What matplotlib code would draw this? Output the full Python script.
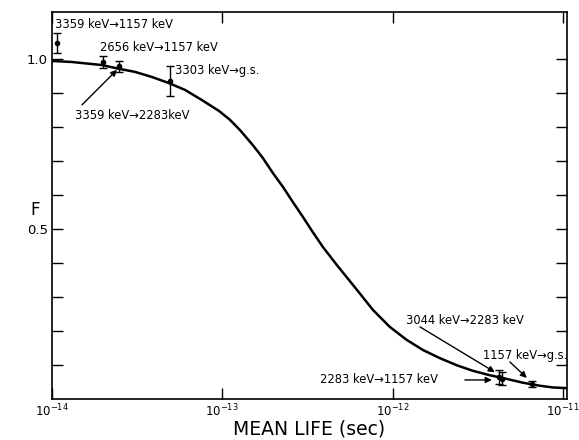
import numpy as np
import matplotlib
matplotlib.use("Agg")
import matplotlib.pyplot as plt
from matplotlib.ticker import FixedLocator, FuncFormatter

# curva teorica F(tau)
curva_tau = [1.00e-14, 1.31e-14, 1.97e-14, 2.47e-14, 3.07e-14, 3.86e-14, 4.86e-14,
             6.04e-14, 7.60e-14, 9.57e-14, 1.11e-13, 1.27e-13, 1.51e-13, 1.73e-13,
             1.98e-13, 2.27e-13, 2.60e-13, 2.98e-13, 3.40e-13, 3.90e-13, 4.71e-13,
             6.18e-13, 7.67e-13, 9.64e-13, 1.21e-12, 1.51e-12, 1.90e-12, 2.39e-12,
             2.96e-12, 3.72e-12, 4.69e-12, 5.82e-12, 7.33e-12, 8.73e-12, 1.05e-11]
curva_F = [0.994, 0.991, 0.982, 0.971, 0.962, 0.947, 0.929,
           0.909, 0.879, 0.847, 0.821, 0.791, 0.747, 0.709,
           0.665, 0.624, 0.579, 0.535, 0.491, 0.447, 0.394,
           0.321, 0.262, 0.212, 0.174, 0.144, 0.120, 0.099,
           0.083, 0.070, 0.059, 0.048, 0.039, 0.034, 0.032]

# puntos medidos
etiquetas = ["3359 keV\u21921157 keV", "2656 keV\u21921157 keV", "3359 keV\u21922283keV",
             "3303 keV\u2192g.s.", "2283 keV\u21921157 keV", "3044 keV\u21922283 keV",
             "1157 keV\u2192g.s."]
tau = [1.07e-14, 2.0e-14, 2.47e-14, 4.93e-14, 4.25e-12, 4.40e-12, 6.58e-12]
F = [1.047, 0.991, 0.979, 0.935, 0.064, 0.060, 0.044]
err = [0.030, 0.018, 0.016, 0.043, 0.020, 0.018, 0.010]

fig = plt.figure(figsize=(5.79, 4.40), dpi=100)
ax = fig.add_axes([0.0898, 0.0932, 0.889, 0.8795])

ax.plot(curva_tau, curva_F, color="black", lw=1.8, solid_joinstyle="round")
ax.errorbar(tau, F, yerr=err, fmt="o", ms=3, color="black", ecolor="black",
            elinewidth=1.0, capsize=3, capthick=1.0)

ax.set_xscale("log")
ax.set_xlim(1e-14, 1.055e-11)
ax.set_ylim(0, 1.138)

ax.xaxis.set_major_locator(FixedLocator([1e-14, 1e-13, 1e-12, 1e-11]))
ax.xaxis.set_minor_locator(FixedLocator([]))
ax.xaxis.set_major_formatter(FuncFormatter(lambda v, p: "$10^{%d}$" % round(np.log10(v))))
ax.yaxis.set_major_locator(FixedLocator(np.arange(0.1, 1.01, 0.1)))
ax.yaxis.set_major_formatter(FuncFormatter(
    lambda v, p: "1.0" if abs(v - 1.0) < 1e-6 else ("0.5" if abs(v - 0.5) < 1e-6 else "")))
ax.tick_params(axis="both", direction="in", length=8, width=1, top=True, right=True,
               labelsize=9.5, pad=3)
ax.tick_params(axis="x", labelsize=8.5)
for s in ax.spines.values():
    s.set_linewidth(1.2)

ax.set_xlabel("MEAN LIFE (sec)", fontsize=13.5)
ax.xaxis.set_label_coords(0.499, -0.052)
ax.set_ylabel("F", fontsize=12, rotation=0, va="center")
ax.yaxis.set_label_coords(-0.033, 0.489)

fs = 8.3
ax.text(1.04e-14, 1.10, etiquetas[0], fontsize=fs, va="center")
ax.text(1.91e-14, 1.035, etiquetas[1], fontsize=fs, va="center")
ax.text(5.27e-14, 0.965, etiquetas[3], fontsize=fs, va="center")
ax.text(1.36e-14, 0.835, etiquetas[2], fontsize=fs, va="center")
ax.text(1.20e-12, 0.232, etiquetas[5], fontsize=fs, va="center")
ax.text(3.39e-12, 0.129, etiquetas[6], fontsize=fs, va="center")
ax.text(3.74e-13, 0.056, etiquetas[4], fontsize=fs, va="center")

flecha = dict(arrowstyle="-|>", color="black", lw=1, shrinkA=0, shrinkB=0,
              mutation_scale=9)
ax.annotate("", xy=(2.41e-14, 0.968), xytext=(1.50e-14, 0.865), arrowprops=flecha)
ax.annotate("", xy=(3.99e-12, 0.079), xytext=(1.45e-12, 0.212), arrowprops=flecha)
ax.annotate("", xy=(6.15e-12, 0.062), xytext=(4.89e-12, 0.109), arrowprops=flecha)
ax.annotate("", xy=(3.83e-12, 0.056), xytext=(2.66e-12, 0.056), arrowprops=flecha)

fig.savefig("out.png", dpi=100)
